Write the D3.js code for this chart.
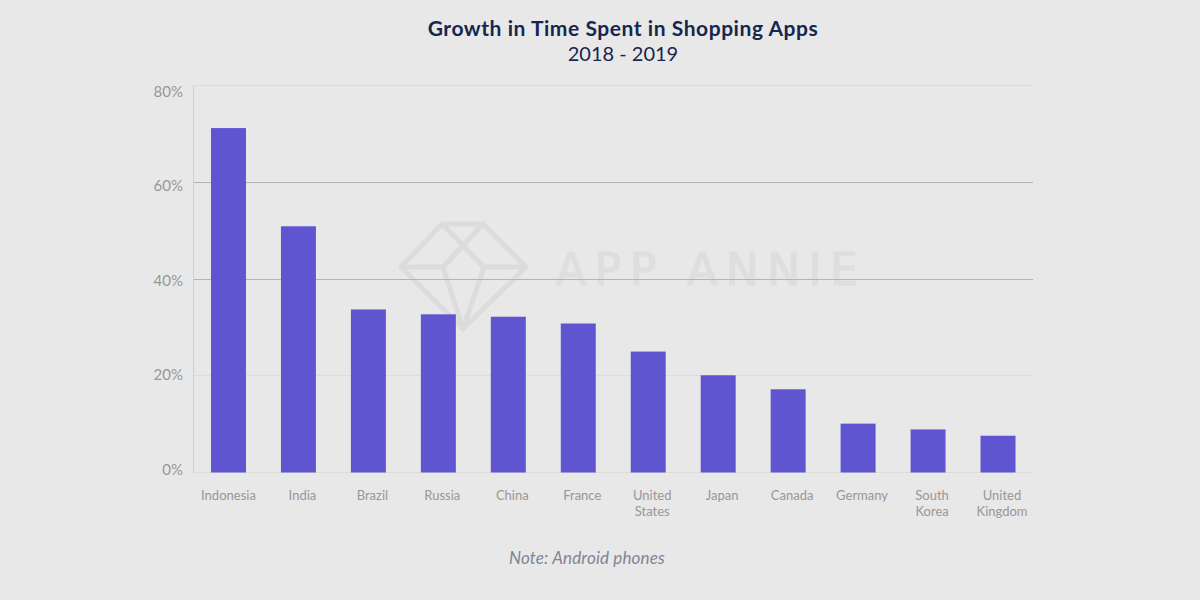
<!DOCTYPE html>
<html>
<head>
<meta charset="utf-8">
<script src="https://cdn.jsdelivr.net/npm/d3@7"></script>
<style>
  html, body { margin: 0; padding: 0; background: #e8e8e8; }
  text { font-family: "Lato", "Open Sans", sans-serif; }
</style>
</head>
<body>
<script>
const categories = ["Indonesia", "India", "Brazil", "Russia", "China", "France", "United States", "Japan", "Canada", "Germany", "South Korea", "United Kingdom"]
const growth = [71.2, 50.9, 33.7, 32.7, 32.2, 30.8, 25, 20.1, 17.2, 10.1, 8.9, 7.6]
const yTicks = [0, 20, 40, 60, 80]
const darkGrid = [40, 60]

const w = 1200
const h = 600

let svg = d3.select("body")
            .append("svg")
            .attr("width", w)
            .attr("height", h)
            .style("display", "block")

let x = d3.scaleBand()
          .domain(categories)
          .range([193.5, 1033])
          .paddingInner(0.5)
          .paddingOuter(0.25)

let y = d3.scaleLinear()
          .domain([0, 80])
          .range([472.5, 85.5])

// the tick labels in the original don't line up with the grid, they have their own spread
let yLabel = d3.scaleLinear()
               .domain([0, 80])
               .range([474.5, 96.5])

// watermark sits under the grid
let mark = svg.append("g")
              .attr("fill", "none")
              .attr("stroke", "#dcdcdc")
              .attr("stroke-width", 5)
              .attr("stroke-linejoin", "round")

mark.append("path").attr("d", "M442,224 L483,224 L526,267 L463,329 L401,267 Z")
mark.append("path").attr("d", "M401,267 L443,267 L463,246 L484,267 L526,267")
mark.append("path").attr("d", "M442,224 L484,267 L463,329 L443,267 L483,224")

svg.append("text")
   .attr("x", 556)
   .attr("y", 285)
   .attr("fill", "#dedede")
   .attr("stroke", "#dedede")
   .attr("stroke-width", 1.2)
   .attr("font-size", 44)
   .attr("letter-spacing", 8.5)
   .style("font-family", "'DejaVu Sans'")
   .text("APP ANNIE")

// grid, snapped to whole pixels so the lines stay thin
svg.append("g")
   .selectAll("line")
   .data(yTicks)
   .enter()
   .append("line")
   .attr("x1", 193.5)
   .attr("x2", 1033)
   .attr("y1", d => Math.floor(y(d)) + 0.5)
   .attr("y2", d => Math.floor(y(d)) + 0.5)
   .attr("stroke", d => darkGrid.includes(d) ? "#b4b4b4" : "#dcdcdc")
   .attr("stroke-width", 1)

svg.append("line")
   .attr("x1", 193.5)
   .attr("x2", 193.5)
   .attr("y1", y(80))
   .attr("y2", y(0))
   .attr("stroke", "#d0d0d0")

// bars
svg.append("g")
   .selectAll("rect")
   .data(growth)
   .enter()
   .append("rect")
   .attr("x", (d, i) => x(categories[i]))
   .attr("y", d => y(d))
   .attr("width", x.bandwidth())
   .attr("height", d => y(0) - y(d))
   .attr("fill", "#6055d0")

// y labels
svg.append("g")
   .selectAll("text")
   .data(yTicks)
   .enter()
   .append("text")
   .attr("x", 183)
   .attr("y", d => yLabel(d))
   .attr("text-anchor", "end")
   .attr("fill", "#979797")
   .attr("font-size", 15)
   .text(d => d + "%")

// x labels, two words go on two lines. all but the first sit a little right of the bar
let xLabels = svg.append("g")
                 .selectAll("text")
                 .data(categories)
                 .enter()
                 .append("text")
                 .attr("text-anchor", "middle")
                 .attr("fill", "#979797")
                 .attr("font-size", 13)

xLabels.selectAll("tspan")
       .data(d => d.split(" ").map(t => ({ t: t, c: d })))
       .enter()
       .append("tspan")
       .attr("x", d => x(d.c) + x.bandwidth() / 2 + (d.c == categories[0] ? 0 : 4))
       .attr("y", (d, i) => 500 + i * 16)
       .text(d => d.t)

svg.append("text")
   .attr("x", 623)
   .attr("y", 36)
   .attr("text-anchor", "middle")
   .attr("fill", "#16264f")
   .attr("font-size", 21)
   .attr("font-weight", 700)
   .attr("letter-spacing", 0.55)
   .text("Growth in Time Spent in Shopping Apps")

svg.append("text")
   .attr("x", 623)
   .attr("y", 61)
   .attr("text-anchor", "middle")
   .attr("fill", "#16264f")
   .attr("font-size", 20)
   .text("2018 - 2019")

svg.append("text")
   .attr("x", 587)
   .attr("y", 564)
   .attr("text-anchor", "middle")
   .attr("fill", "#7f8594")
   .attr("font-size", 17)
   .attr("font-style", "italic")
   .attr("letter-spacing", 0.15)
   .text("Note: Android phones")
</script>
</body>
</html>
